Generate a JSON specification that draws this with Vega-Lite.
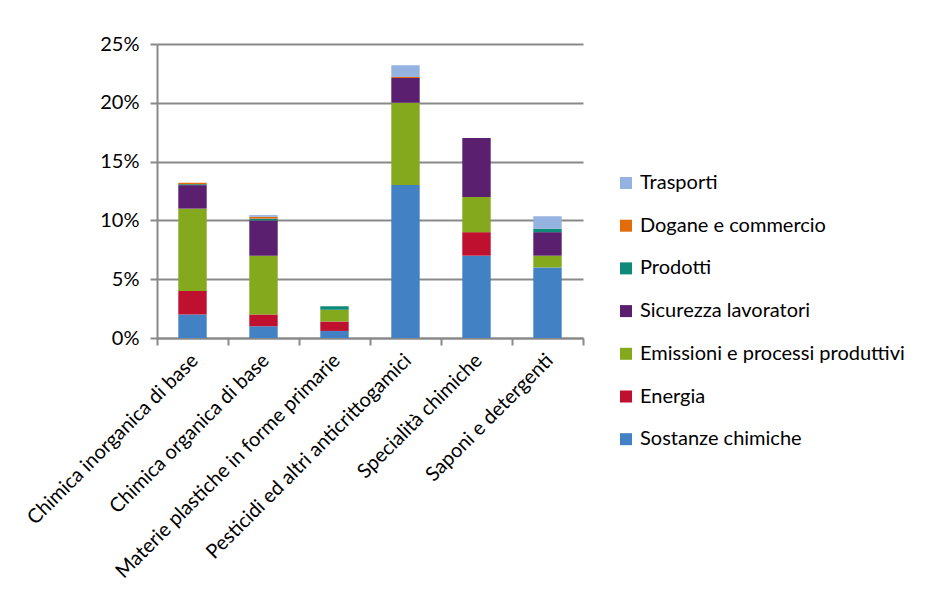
{
  "$schema": "https://vega.github.io/schema/vega-lite/v6.json",
  "width": 426,
  "height": 294,
  "autosize": "none",
  "padding": {"left": 157, "top": 44, "right": 352, "bottom": 265},
  "background": "white",
  "config": {
    "font": "Lato",
    "view": {"stroke": null}
  },
  "data": {
    "values": [
      {"cat": "Chimica inorganica di base", "serie": "Sostanze chimiche", "i": 0, "v": 0.02},
      {"cat": "Chimica inorganica di base", "serie": "Energia", "i": 1, "v": 0.02},
      {"cat": "Chimica inorganica di base", "serie": "Emissioni e processi produttivi", "i": 2, "v": 0.07},
      {"cat": "Chimica inorganica di base", "serie": "Sicurezza lavoratori", "i": 3, "v": 0.02},
      {"cat": "Chimica inorganica di base", "serie": "Prodotti", "i": 4, "v": 0.0008},
      {"cat": "Chimica inorganica di base", "serie": "Dogane e commercio", "i": 5, "v": 0.0012},
      {"cat": "Chimica organica di base", "serie": "Sostanze chimiche", "i": 0, "v": 0.01},
      {"cat": "Chimica organica di base", "serie": "Energia", "i": 1, "v": 0.01},
      {"cat": "Chimica organica di base", "serie": "Emissioni e processi produttivi", "i": 2, "v": 0.05},
      {"cat": "Chimica organica di base", "serie": "Sicurezza lavoratori", "i": 3, "v": 0.03},
      {"cat": "Chimica organica di base", "serie": "Prodotti", "i": 4, "v": 0.0015},
      {"cat": "Chimica organica di base", "serie": "Dogane e commercio", "i": 5, "v": 0.0015},
      {"cat": "Chimica organica di base", "serie": "Trasporti", "i": 6, "v": 0.0015},
      {"cat": "Materie plastiche in forme primarie", "serie": "Sostanze chimiche", "i": 0, "v": 0.006},
      {"cat": "Materie plastiche in forme primarie", "serie": "Energia", "i": 1, "v": 0.008},
      {"cat": "Materie plastiche in forme primarie", "serie": "Emissioni e processi produttivi", "i": 2, "v": 0.01},
      {"cat": "Materie plastiche in forme primarie", "serie": "Prodotti", "i": 4, "v": 0.003},
      {"cat": "Pesticidi ed altri anticrittogamici", "serie": "Sostanze chimiche", "i": 0, "v": 0.13},
      {"cat": "Pesticidi ed altri anticrittogamici", "serie": "Emissioni e processi produttivi", "i": 2, "v": 0.07},
      {"cat": "Pesticidi ed altri anticrittogamici", "serie": "Sicurezza lavoratori", "i": 3, "v": 0.021},
      {"cat": "Pesticidi ed altri anticrittogamici", "serie": "Dogane e commercio", "i": 5, "v": 0.001},
      {"cat": "Pesticidi ed altri anticrittogamici", "serie": "Trasporti", "i": 6, "v": 0.01},
      {"cat": "Specialità chimiche", "serie": "Sostanze chimiche", "i": 0, "v": 0.07},
      {"cat": "Specialità chimiche", "serie": "Energia", "i": 1, "v": 0.02},
      {"cat": "Specialità chimiche", "serie": "Emissioni e processi produttivi", "i": 2, "v": 0.03},
      {"cat": "Specialità chimiche", "serie": "Sicurezza lavoratori", "i": 3, "v": 0.05},
      {"cat": "Saponi e detergenti", "serie": "Sostanze chimiche", "i": 0, "v": 0.06},
      {"cat": "Saponi e detergenti", "serie": "Emissioni e processi produttivi", "i": 2, "v": 0.01},
      {"cat": "Saponi e detergenti", "serie": "Sicurezza lavoratori", "i": 3, "v": 0.02},
      {"cat": "Saponi e detergenti", "serie": "Prodotti", "i": 4, "v": 0.003},
      {"cat": "Saponi e detergenti", "serie": "Trasporti", "i": 6, "v": 0.0105}
    ]
  },
  "mark": {"type": "bar", "width": {"band": 0.4}},
  "encoding": {
    "x": {
      "field": "cat",
      "type": "nominal",
      "sort": null,
      "scale": {"paddingInner": 0, "paddingOuter": 0},
      "axis": {
        "title": null,
        "labelAngle": -45,
        "labelFontSize": 20,
        "labelColor": "#000000",
        "labelPadding": 5,
        "labelOffset": -5,
        "tickBand": "extent",
        "tickSize": 7,
        "tickColor": "#898989",
        "tickWidth": 2,
        "domainColor": "#898989",
        "domainWidth": 2,
        "labelLimit": 400
      }
    },
    "y": {
      "field": "v",
      "type": "quantitative",
      "stack": "zero",
      "scale": {"domain": [0, 0.25], "nice": false},
      "axis": {
        "title": null,
        "values": [0, 0.05, 0.1, 0.15, 0.2, 0.25],
        "format": ".0%",
        "labelFontSize": 20,
        "labelColor": "#000000",
        "labelPadding": 11,
        "tickSize": 7,
        "tickColor": "#898989",
        "tickWidth": 2,
        "domainColor": "#898989",
        "domainWidth": 2,
        "gridColor": "#898989",
        "gridWidth": 2
      }
    },
    "color": {
      "field": "serie",
      "type": "nominal",
      "sort": ["Trasporti", "Dogane e commercio", "Prodotti", "Sicurezza lavoratori", "Emissioni e processi produttivi", "Energia", "Sostanze chimiche"],
      "scale": {
        "domain": ["Trasporti", "Dogane e commercio", "Prodotti", "Sicurezza lavoratori", "Emissioni e processi produttivi", "Energia", "Sostanze chimiche"],
        "range": ["#95b3e0", "#e36c0a", "#0d8a7a", "#5b1f6f", "#85a91d", "#c0102f", "#4181c4"]
      },
      "legend": {
        "title": null,
        "orient": "none",
        "legendX": 459,
        "legendY": 129,
        "symbolType": "square",
        "symbolSize": 144,
        "symbolStrokeWidth": 0,
        "labelFontSize": 20,
        "labelColor": "#000000",
        "labelOffset": 4,
        "rowPadding": 22.7,
        "labelLimit": 400
      }
    },
    "order": {"field": "i", "type": "quantitative", "sort": "ascending"}
  }
}
